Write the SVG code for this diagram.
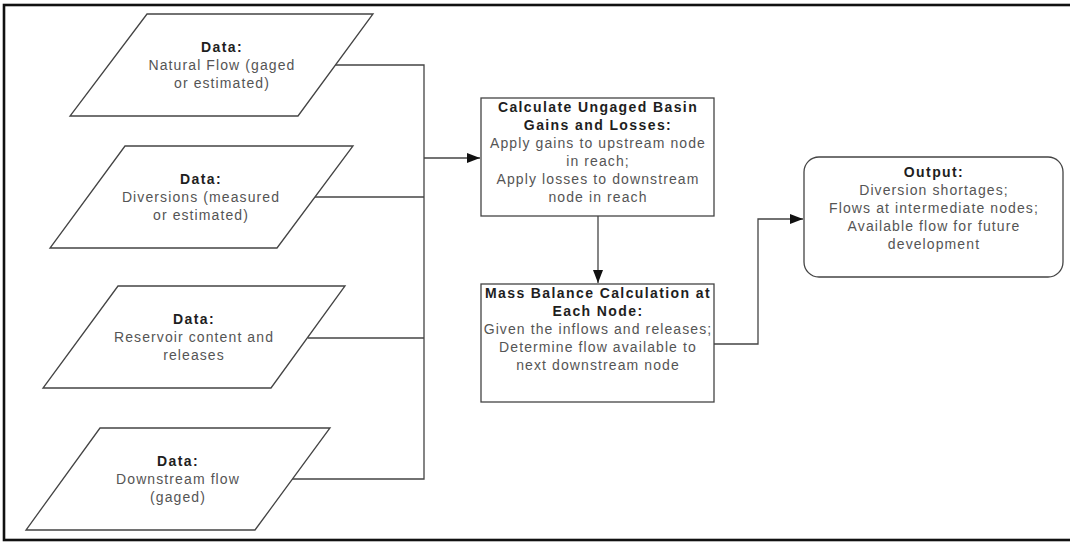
<svg xmlns="http://www.w3.org/2000/svg" width="1070" height="542" viewBox="0 0 1070 542">
<style>
.shape{fill:#fff;stroke:#444;stroke-width:1.3}
.conn{fill:none;stroke:#444;stroke-width:1.3}
text{font-family:"Liberation Sans",Arial,sans-serif;font-size:14px;text-anchor:middle}
.b{font-weight:bold;fill:#1e1e1e;letter-spacing:1.4px}
.n{fill:#555;letter-spacing:1.1px}
</style>
<defs>
<marker id="arr" markerUnits="userSpaceOnUse" markerWidth="14" markerHeight="12" refX="13" refY="5" orient="auto">
<path d="M0,0 L13,5 L0,10 z" fill="#111"/>
</marker>
</defs>
<rect x="0" y="0" width="1070" height="542" fill="#fff"/>
<rect x="4" y="5" width="1090" height="535" fill="none" stroke="#111" stroke-width="2.6"/>
<g id="connectors">
<path class="conn" d="M335,65 H424 V479 H292"/>
<path class="conn" d="M315,197 H424"/>
<path class="conn" d="M308,338 H424"/>
<path class="conn" d="M424,158 H480" marker-end="url(#arr)"/>
<path class="conn" d="M598,216 V283" marker-end="url(#arr)"/>
<path class="conn" d="M714,344 H758 V219 H803" marker-end="url(#arr)"/>
</g>
<g id="data-natural-flow">
<polygon class="shape" points="147,14 373,14 298,116 70,116"/>
<text x="222" y="52" class="b">Data:</text>
<text x="222" y="70" class="n">Natural Flow (gaged</text>
<text x="222" y="88" class="n">or estimated)</text>
</g>
<g id="data-diversions">
<polygon class="shape" points="125,146 353,146 277,248 50,248"/>
<text x="201" y="184" class="b">Data:</text>
<text x="201" y="202" class="n">Diversions (measured</text>
<text x="201" y="220" class="n">or estimated)</text>
</g>
<g id="data-reservoir">
<polygon class="shape" points="118,286 345,286 271,388 43,388"/>
<text x="194" y="324" class="b">Data:</text>
<text x="194" y="342" class="n">Reservoir content and</text>
<text x="194" y="360" class="n">releases</text>
</g>
<g id="data-downstream">
<polygon class="shape" points="100,428 330,428 255,530 26,530"/>
<text x="178" y="466" class="b">Data:</text>
<text x="178" y="484" class="n">Downstream flow</text>
<text x="178" y="502" class="n">(gaged)</text>
</g>
<g id="calc-gains-losses">
<rect class="shape" x="481" y="98" width="233" height="118"/>
<text x="598" y="112" class="b">Calculate Ungaged Basin</text>
<text x="598" y="130" class="b">Gains and Losses:</text>
<text x="598" y="148" class="n">Apply gains to upstream node</text>
<text x="598" y="166" class="n">in reach;</text>
<text x="598" y="184" class="n">Apply losses to downstream</text>
<text x="598" y="202" class="n">node in reach</text>
</g>
<g id="mass-balance">
<rect class="shape" x="481" y="284" width="233" height="118"/>
<text x="598" y="298" class="b">Mass Balance Calculation at</text>
<text x="598" y="316" class="b">Each Node:</text>
<text x="598" y="334" class="n">Given the inflows and releases;</text>
<text x="598" y="352" class="n">Determine flow available to</text>
<text x="598" y="370" class="n">next downstream node</text>
</g>
<g id="output">
<rect class="shape" x="804" y="157" width="259" height="120" rx="15" ry="15"/>
<text x="934" y="177" class="b">Output:</text>
<text x="934" y="195" class="n">Diversion shortages;</text>
<text x="934" y="213" class="n">Flows at intermediate nodes;</text>
<text x="934" y="231" class="n">Available flow for future</text>
<text x="934" y="249" class="n">development</text>
</g>
</svg>
